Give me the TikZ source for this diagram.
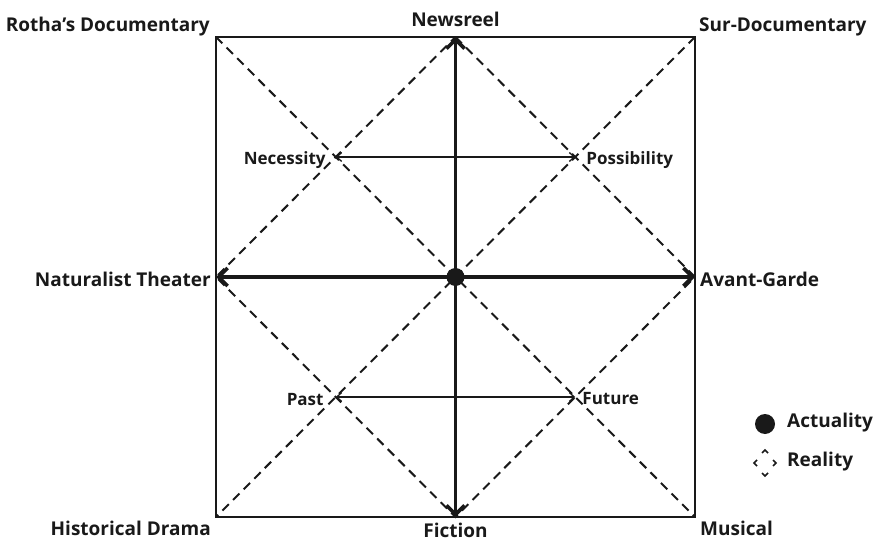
\documentclass[tikz,border=0pt]{standalone}
\usepackage{fontspec}
\setmainfont{Open Sans}
\usetikzlibrary{arrows.meta, positioning, calc}
\tikzset{
  lbl/.style={font=\bfseries\fontsize{19}{23}\selectfont, inner sep=0pt, text=black!90},
  smlbl/.style={lbl, font=\bfseries\fontsize{17}{20}\selectfont},
  frame/.style={line width=2.2pt, draw=black!90},
  dline/.style={line width=2pt, dash pattern=on 9pt off 6pt, draw=black!90},
  bigarr/.style={{Straight Barb[length=9pt,width=18pt]}-{Straight Barb[length=9pt,width=18pt]}, line width=3.6pt, draw=black!90},
  smallarr/.style={{Straight Barb[length=5pt,width=9pt]}-{Straight Barb[length=5pt,width=9pt]}, line width=1.3pt, draw=black!90},
  bigdot/.style={circle, fill=black!90, inner sep=0pt, minimum size=#1},
  chev/.style={line width=1.7pt, draw=black!90},
}

\begin{document}
\begin{tikzpicture}[x=1pt, y=-1pt]
    \useasboundingbox (0,0) rectangle (873,540);
    % frame corners and midpoints
    \coordinate (tl) at (216,37);
    \coordinate (tr) at (695,37);
    \coordinate (bl) at (216,517);
    \coordinate (br) at (695,517);
    \coordinate (t) at ($(tl)!.5!(tr)$);
    \coordinate (b) at ($(bl)!.5!(br)$);
    \coordinate (l) at ($(tl)!.5!(bl)$);
    \coordinate (r) at ($(tr)!.5!(br)$);
    \coordinate (c) at ($(t)!.5!(b)$);
    \coordinate (nec) at ($(tl)!.5!(c)$);
    \coordinate (pos) at ($(tr)!.5!(c)$);
    \coordinate (past) at ($(bl)!.5!(c)$);
    \coordinate (fut) at ($(br)!.5!(c)$);

    \draw[frame] (tl) rectangle (br);
    \draw[dline] (tl) -- (br);
    \draw[dline] (tr) -- (bl);
    \draw[dline] (t) -- (r) -- (b) -- (l) -- cycle;
    \draw[bigarr] (t) -- (b);
    \draw[bigarr] (l) -- (r);
    \draw[smallarr] (nec) -- (pos);
    \draw[smallarr] (past) -- (fut);
    \node[bigdot=18pt] (act) at (c) {};

    % labels
    \node[lbl, anchor=east] (rotha) at (210,27) {Rotha's Documentary};
    \node[lbl] (news) at ($(t)+(0,-18)$) {Newsreel};
    \node[lbl, anchor=west] (surdoc) at (699,27) {Sur-Documentary};
    \node[lbl, anchor=east] (natur) at (211,279) {Naturalist Theater};
    \node[lbl, anchor=west] (avant) at (700,279) {Avant-Garde};
    \node[lbl, anchor=east] (hist) at (211,528) {Historical Drama};
    \node[lbl] (fict) at ($(b)+(0,13)$) {Fiction};
    \node[lbl, anchor=west] (music) at (700,528) {Musical};
    \node[smlbl, anchor=east] (necl) at ($(nec)+(-10,3)$) {Necessity};
    \node[smlbl, anchor=west] (posl) at ($(pos)+(11,3)$) {Possibility};
    \node[smlbl, anchor=east] (pastl) at ($(past)+(-12,3)$) {Past};
    \node[smlbl, anchor=west] (futl) at ($(fut)+(7,2)$) {Future};

    % legend
    \node[bigdot=20pt] (legdot) at (765,424) {};
    \node[lbl, anchor=west] (actl) at (787,423) {Actuality};
    \coordinate (legr) at (765,463);
    \draw[chev] ($(legr)+(-3,-10)$) -- ($(legr)+(0,-13)$) -- ($(legr)+(3,-10)$);
    \draw[chev] ($(legr)+(-3,10)$) -- ($(legr)+(0,13)$) -- ($(legr)+(3,10)$);
    \draw[chev] ($(legr)+(-8,-3)$) -- ($(legr)+(-11,0)$) -- ($(legr)+(-8,3)$);
    \draw[chev] ($(legr)+(8,-3)$) -- ($(legr)+(11,0)$) -- ($(legr)+(8,3)$);
    \node[lbl, anchor=west] (reall) at (787,462) {Reality};
\end{tikzpicture}
\end{document}
